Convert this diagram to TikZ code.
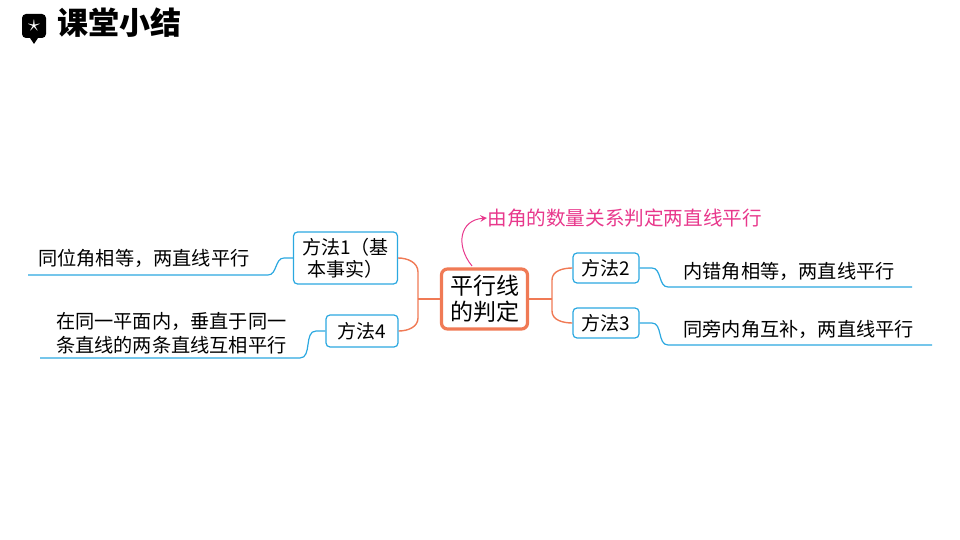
\documentclass[tikz,border=0pt]{standalone}
\usepackage{fontspec}
\setmainfont{Noto Sans CJK SC}
\newfontfamily\cjk{Noto Sans CJK SC}
\usetikzlibrary{positioning}
\definecolor{branchorange}{HTML}{F07A55}
\definecolor{topicblue}{HTML}{2BA8E0}
\definecolor{notepink}{HTML}{E8388C}
\tikzset{
  method/.style={draw=topicblue, line width=0.6pt, rounded corners=2pt, inner sep=1pt, font=\fontsize{9.5}{11}\selectfont, align=center},
  leaf/.style={inner sep=0pt, font=\fontsize{9.6}{12}\selectfont, align=left},
  obranch/.style={draw=branchorange, line width=0.7pt},
  bbranch/.style={draw=topicblue, line width=0.6pt},
}
\begin{document}
\begin{tikzpicture}[x=0.5pt,y=-0.5pt]
    \useasboundingbox (0,0) rectangle (960,540);
    % title
    \node (icon) at (34,26) [fill=black, rounded corners=2pt, minimum size=12pt, inner sep=0pt] {};
    \fill (30,38) -- (38,38) -- (34,44) -- cycle;
    \node (star) at (icon) [text=white, font=\fontsize{12}{12}\selectfont] {$\star$};
    \node (title) at (57,23) [anchor=west, inner sep=0pt, font=\fontsize{15.5}{17}\bfseries\selectfont] {课堂小结};
    % centre
    \node (root) at (484.5,299) [draw=branchorange, line width=1.6pt, rounded corners=3pt, minimum width=43pt, minimum height=30pt, inner sep=1pt, align=center, font=\fontsize{11.5}{13}\selectfont] {平行线\\的判定};
    \node (note) at (487,218) [anchor=west, inner sep=0pt, text=notepink, font=\fontsize{9.8}{11}\selectfont] {由角的数量关系判定两直线平行};
    \draw[notepink, line width=0.5pt, ->, >=stealth] (472,266) .. controls (455,245) and (460,220) .. (note.west);
    % methods
    \node (m2) at (606,268) [method, minimum width=33pt, minimum height=15pt] {方法2};
    \node (m3) at (606,323) [method, minimum width=33pt, minimum height=15pt] {方法3};
    \node (m1) at (345.5,258) [method, minimum width=52pt, minimum height=26pt] {方法1（基\\本事实）};
    \node (m4) at (362,331) [method, minimum width=36pt, minimum height=16pt] {方法4};
    % leaves
    \node (l2) at (683,271) [leaf, anchor=west] {内错角相等，两直线平行};
    \node (l3) at (683,329) [leaf, anchor=west] {同旁内角互补，两直线平行};
    \node (l1) at (250,258) [leaf, anchor=east] {同位角相等，两直线平行};
    \node (l4) at (287,333) [leaf, anchor=east] {在同一平面内，垂直于同一\\条直线的两条直线互相平行};
    \coordinate (u2a) at (668,287); \coordinate (u2b) at (912,287);
    \coordinate (u3a) at (668,345); \coordinate (u3b) at (932,345);
    \coordinate (u1a) at (268,275); \coordinate (u1b) at (28,275);
    \coordinate (u4a) at (300,358); \coordinate (u4b) at (40,358);
    % orange branches
    \draw[obranch] (root.east) -- (552,299);
    \draw[obranch] (552,299) -- (552,280) to[out=90,in=180] (m2.west);
    \draw[obranch] (552,299) -- (552,311) to[out=-90,in=180] (m3.west);
    \draw[obranch] (root.west) -- (418,299);
    \draw[obranch] (418,299) -- (418,272) to[out=90,in=0] (m1.east);
    \draw[obranch] (418,299) -- (418,318) to[out=-90,in=0] (m4.east);
    % blue branches
    \draw[bbranch] (m2.east) -- (652,268) to[out=0,in=180] (u2a) -- (u2b);
    \draw[bbranch] (m3.east) -- (652,323) to[out=0,in=180] (u3a) -- (u3b);
    \draw[bbranch] (m1.west) -- (284,258) to[out=180,in=0] (u1a) -- (u1b);
    \draw[bbranch] (m4.west) -- (316,331) to[out=180,in=0] (u4a) -- (u4b);
\end{tikzpicture}
\end{document}
